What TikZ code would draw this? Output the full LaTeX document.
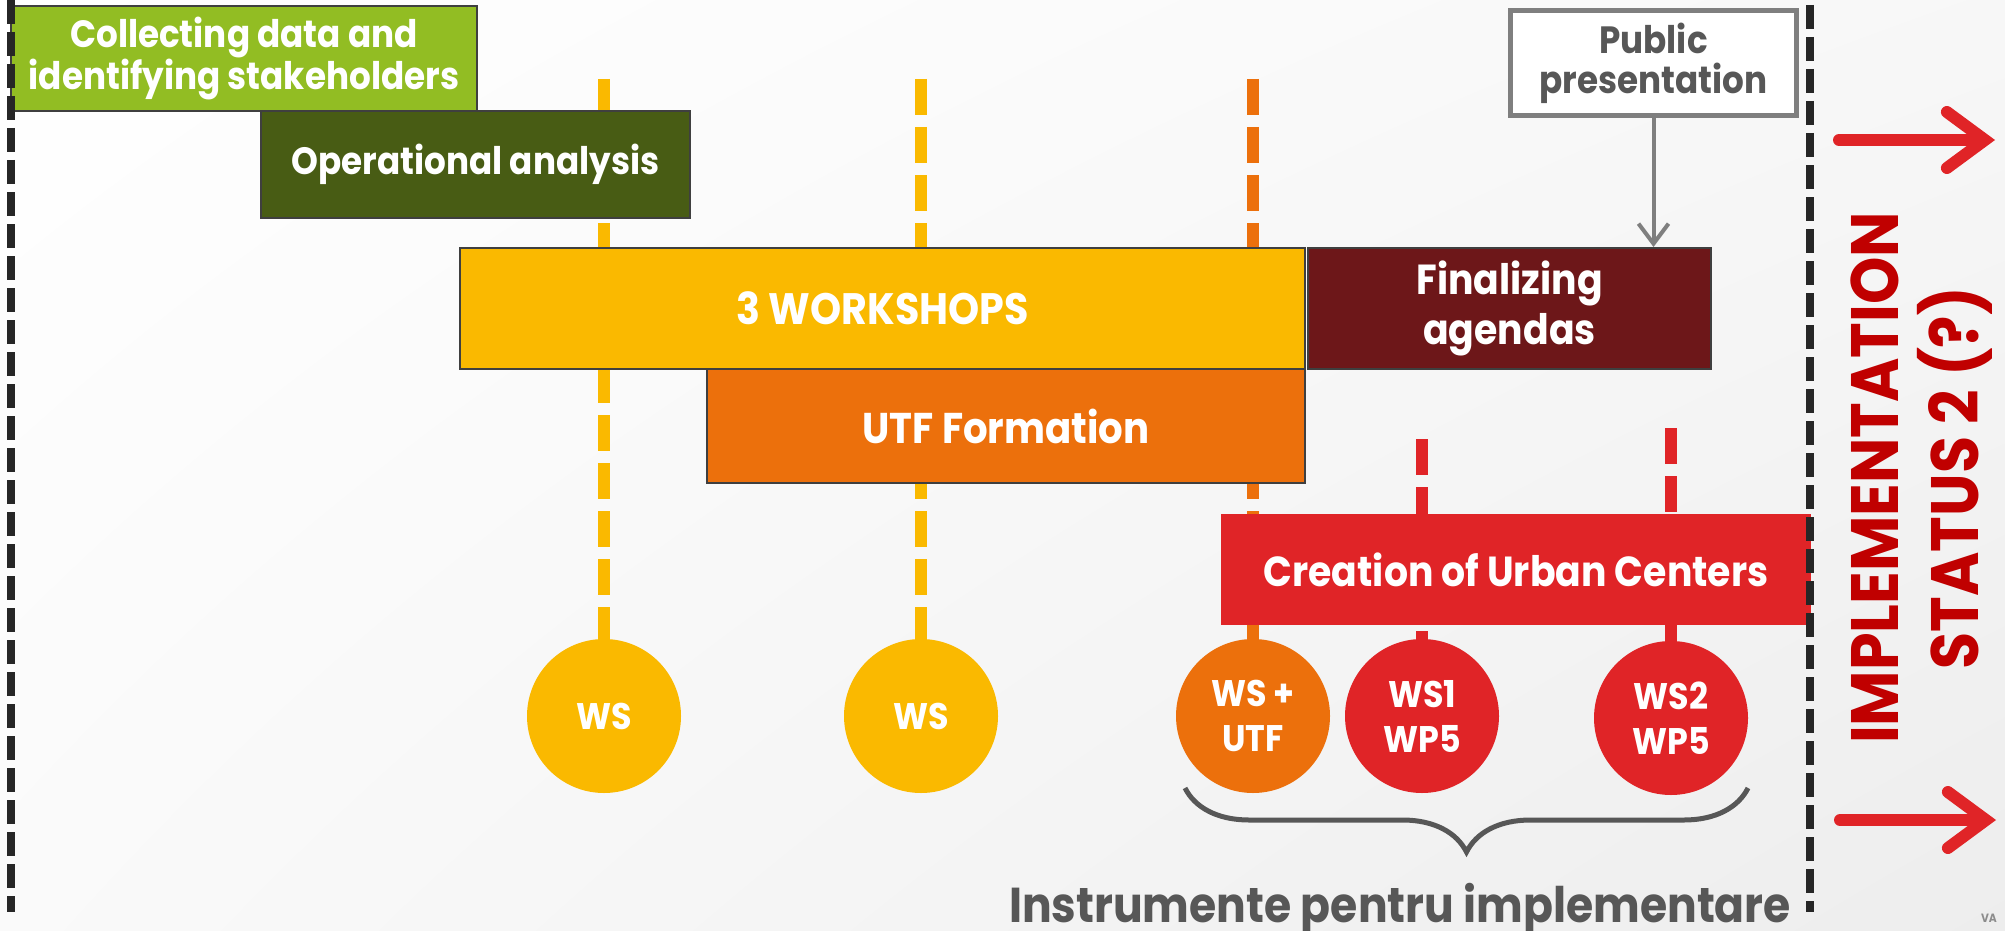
\documentclass[tikz,border=0pt]{standalone}
\usepackage{fontspec}
\setmainfont{Poppins}[FakeStretch=0.9]
\usepackage{xcolor}
\usetikzlibrary{positioning,arrows.meta,decorations.pathreplacing,shadings}

\definecolor{leaf}{HTML}{92BD23}
\definecolor{olive}{HTML}{485C14}
\definecolor{sun}{HTML}{FAB900}
\definecolor{tangerine}{HTML}{EC700C}
\definecolor{wine}{HTML}{6D1719}
\definecolor{signal}{HTML}{E02427}
\definecolor{alert}{HTML}{C00000}
\definecolor{ink}{HTML}{575757}
\definecolor{boxline}{HTML}{3F3F3F}
\definecolor{frame}{HTML}{7F7F7F}
\definecolor{edge}{HTML}{262626}

\begin{document}
\begin{tikzpicture}[
    x=1pt, y=-1pt,
    phase/.style={rectangle, draw=boxline, line width=2pt, text=white, align=center, inner sep=0pt, anchor=north west, font=\bfseries\fontsize{42}{50}\selectfont},
    meeting/.style={circle, minimum size=154pt, inner sep=0pt, text=white, align=center, font=\bfseries\fontsize{37}{45}\selectfont},
    timeline/.style={line width=12pt, dash pattern=on 36pt off 12pt},
    border/.style={line width=8pt, draw=edge, dash pattern=on 24pt off 8pt},
    outcome/.style={line width=12pt, draw=signal, line cap=round, -{Straight Barb[length=38pt, width=56pt, line cap=round]}}
]
    \shade[upper left=white, upper right=black!3, lower left=black!2, lower right=black!7] (0,0) rectangle (2005,931);
    \useasboundingbox (0,0) rectangle (2005,931);

    % Meetings
    \node[meeting, fill=sun] (ws1) at (604,716) {WS};
    \node[meeting, fill=sun] (ws2) at (921,716) {WS};
    \node[meeting, fill=tangerine] (wsutf) at (1253,716) {WS +\\UTF};
    \node[meeting, fill=signal] (wp1) at (1422,716) {WS1\\WP5};
    \node[meeting, fill=signal] (wp2) at (1671,718) {WS2\\WP5};

    % Timelines down to the meetings
    \coordinate (t1) at (604,79);
    \coordinate (t2) at (921,79);
    \coordinate (t3) at (1253,79);
    \coordinate (t4) at (1422,439);
    \coordinate (t5) at (1671,428);
    \draw[timeline, sun] (t1) -- (ws1.north);
    \draw[timeline, sun] (t2) -- (ws2.north);
    \draw[timeline, tangerine] (t3) -- (wsutf.north);
    \draw[timeline, signal] (t4) -- (wp1.north);
    \draw[timeline, signal] (t5) -- (wp2.north);

    % Phases
    \node[phase, fill=leaf, minimum width=466pt, minimum height=105pt, font=\bfseries\fontsize{38}{39}\selectfont] (collect) at (10,5) {Collecting data and\\identifying stakeholders};
    \node[phase, fill=olive, minimum width=429pt, minimum height=107pt, font=\bfseries\fontsize{38}{50}\selectfont] (analysis) at (260,110) {Operational analysis};
    \node[phase, fill=sun, minimum width=845pt, minimum height=121pt, font=\bfseries\fontsize{44}{50}\selectfont] (workshops) at (459,247) {3 WORKSHOPS};
    \node[phase, fill=tangerine, minimum width=598pt, minimum height=114pt, font=\bfseries\fontsize{43}{50}\selectfont] (utf) at (706,368) {UTF Formation};
    \node[phase, fill=wine, minimum width=403pt, minimum height=121pt] (agendas) at (1307,247) {Finalizing\\agendas};
    \node[phase, fill=signal, draw=none, minimum width=590pt, minimum height=111pt] (centers) at (1220,513) {Creation of Urban Centers};
    \node[phase, fill=white, draw=frame, line width=5pt, text=ink, minimum width=286pt, minimum height=105pt, font=\bfseries\fontsize{38}{40}\selectfont] (public) at (1508,8) {Public\\presentation};

    \draw[frame, line width=4pt, -{Straight Barb[length=20pt, width=30pt]}] (public.south) -- (public.south |- agendas.north);

    % Borders of the period
    \draw[border] (11,0) -- (11,912);
    \draw[border] (1810,5) -- (1810,912);

    % Outlook
    \coordinate (o1) at (1839,140);
    \coordinate (o1end) at (1995,140);
    \coordinate (o2) at (1840,820);
    \coordinate (o2end) at (1996,820);
    \draw[outcome] (o1) -- (o1end);
    \draw[outcome] (o2) -- (o2end);
    \node[rotate=90, text=alert, align=center, font=\bfseries\fontsize{67}{80}\selectfont] (status) at (1922,478) {IMPLEMENTATION\\STATUS 2 (?)};

    % Instruments
    \coordinate (b1) at (1748,788);
    \coordinate (b2) at (1185,788);
    \draw[ink, line width=5pt, decorate, decoration={brace, amplitude=64pt}] (b1) -- (b2);
    \node[anchor=base, text=ink, font=\bfseries\fontsize{49}{55}\selectfont] (tools) at (1400,922) {Instrumente pentru implementare};
    \node[text=black!45, font=\bfseries\fontsize{12}{12}\selectfont] (mark) at (1989,918) {VA};
\end{tikzpicture}
\end{document}
